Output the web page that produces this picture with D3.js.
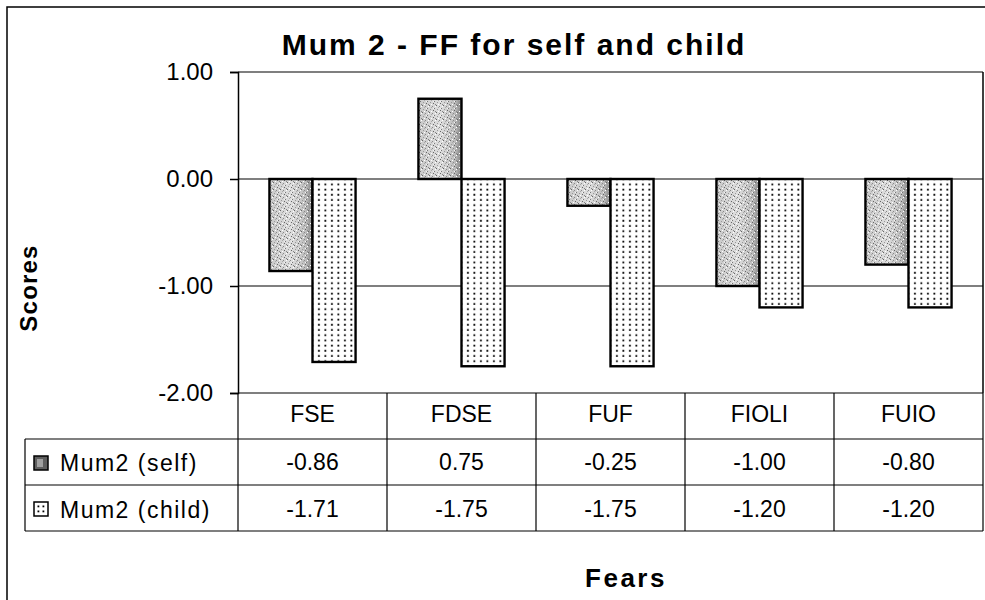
<!DOCTYPE html>
<html>
<head>
<meta charset="utf-8">
<script src="https://cdn.jsdelivr.net/npm/d3@7"></script>
<style>
body{margin:0;background:#fff;}
svg{font-family:"Liberation Sans",Arial,sans-serif;}
</style>
</head>
<body>
<script>
const categories=["FSE","FDSE","FUF","FIOLI","FUIO"];
const seriesNames=["Mum2 (self)","Mum2 (child)"];
const selfScores=[-0.86,0.75,-0.25,-1.00,-0.80];
const childScores=[-1.71,-1.75,-1.75,-1.20,-1.20];
const yTicks=[1,0,-1,-2];

const W=985,H=600,
plotLeft=238,plotRight=983,plotTop=72,plotBottom=393,
rowH=46,legendLeft=25,
fmt=d3.formatLocale({decimal:".",thousands:",",grouping:[3],currency:["",""],minus:"-"}).format(".2f");

const svg=d3.select("body").append("svg")
  .attr("width",W).attr("height",H);

const defs=svg.append("defs");

// grainy grey fill of the "self" bars
const grad=defs.append("linearGradient").attr("id","selfGrad");
grad.append("stop").attr("offset","0").attr("stop-color","#c8c8c8");
grad.append("stop").attr("offset","0.5").attr("stop-color","#dedede");
grad.append("stop").attr("offset","0.85").attr("stop-color","#bcbcbc");
grad.append("stop").attr("offset","1").attr("stop-color","#808080");

const speck=defs.append("pattern").attr("id","speck")
  .attr("patternUnits","userSpaceOnUse").attr("width",7).attr("height",7);
[[0,0,"#666"],[3,1,"#888"],[5,3,"#777"],[1,4,"#999"],[4,5,"#666"],[6,6,"#888"],[2,2,"#aaa"],[6,1,"#fff"],[2,6,"#fff"],[4,3,"#f4f4f4"]]
  .forEach(p=>speck.append("rect").attr("x",p[0]).attr("y",p[1]).attr("width",1).attr("height",1).attr("fill",p[2]));

// dotted fill of the "child" bars
const dots=defs.append("pattern").attr("id","dots")
  .attr("patternUnits","userSpaceOnUse").attr("width",6.5).attr("height",5.2);
dots.append("rect").attr("width",6.5).attr("height",5.2).attr("fill","#fff");
dots.append("rect").attr("x",2).attr("y",1.5).attr("width",1.8).attr("height",1.8).attr("fill","#000");

// outer chart border
svg.append("rect").attr("x",7).attr("y",7).attr("width",W+10).attr("height",H+10)
  .attr("fill","none").attr("stroke","#000").attr("stroke-width",1.5);

const x0=d3.scaleBand().domain(categories).range([plotLeft,plotRight]);
const x1=d3.scaleBand().domain(seriesNames).range([0,x0.bandwidth()]).paddingOuter(0.73);
const y=d3.scaleLinear().domain([-2,1]).range([plotBottom,plotTop]);

// gridlines
svg.append("g").selectAll("line").data(yTicks).enter().append("line")
  .attr("x1",plotLeft).attr("x2",plotRight)
  .attr("y1",d=>y(d)).attr("y2",d=>y(d))
  .attr("stroke","#000").attr("stroke-width",1.2);

// y axis
const yAxis=d3.axisLeft(y).tickValues(yTicks).tickFormat(fmt).tickSize(8).tickPadding(17);
svg.append("g").attr("transform",`translate(${plotLeft},0)`).call(yAxis)
  .call(g=>g.selectAll("text").attr("font-size",24).attr("fill","#000").attr("font-family","Liberation Sans, Arial"))
  .call(g=>g.selectAll("line,path").attr("stroke","#000").attr("stroke-width",1.5));

svg.append("line").attr("x1",plotRight).attr("x2",plotRight)
  .attr("y1",plotTop).attr("y2",plotBottom).attr("stroke","#000").attr("stroke-width",1.5);

// bars
const data=categories.map((c,i)=>({cat:c,vals:[selfScores[i],childScores[i]]}));
const groups=svg.append("g").selectAll("g").data(data).enter().append("g")
  .attr("transform",d=>`translate(${x0(d.cat)},0)`);

groups.each(function(d){
  const g=d3.select(this);
  d.vals.forEach((v,j)=>{
    const bx=x1(seriesNames[j]),bw=x1.bandwidth(),
      by=Math.min(y(v),y(0)),bh=Math.abs(y(v)-y(0));
    if(j===0){
      g.append("rect").attr("x",bx).attr("y",by).attr("width",bw).attr("height",bh).attr("fill","url(#selfGrad)");
      g.append("rect").attr("x",bx).attr("y",by).attr("width",bw).attr("height",bh).attr("fill","url(#speck)");
    }else{
      g.append("rect").attr("x",bx).attr("y",by).attr("width",bw).attr("height",bh).attr("fill","url(#dots)");
    }
    g.append("rect").attr("x",bx).attr("y",by).attr("width",bw).attr("height",bh)
      .attr("fill","none").attr("stroke","#000").attr("stroke-width",2.4);
  });
});

// data table
const rowY=[plotBottom,plotBottom+rowH,plotBottom+2*rowH,plotBottom+3*rowH];
const table=svg.append("g").attr("stroke","#000").attr("stroke-width",1.2);
[rowY[1],rowY[2],rowY[3]].forEach(yy=>table.append("line")
  .attr("x1",legendLeft).attr("x2",plotRight).attr("y1",yy).attr("y2",yy));
table.append("line").attr("x1",legendLeft).attr("x2",legendLeft).attr("y1",rowY[1]).attr("y2",rowY[3]);
categories.concat(["end"]).forEach((c,i)=>{
  const xx=i<categories.length?x0(c):plotRight;
  table.append("line").attr("x1",xx).attr("x2",xx).attr("y1",rowY[0]).attr("y2",rowY[3]);
});

const cellText=(g,xx,yy,t)=>g.append("text").attr("x",xx).attr("y",yy)
  .attr("text-anchor","middle").attr("font-size",23).attr("fill","#000").text(t);

const tt=svg.append("g");
categories.forEach((c,i)=>{
  const cx=x0(c)+x0.bandwidth()/2;
  cellText(tt,cx,rowY[0]+29,c);
  cellText(tt,cx,rowY[1]+31,fmt(selfScores[i]));
  cellText(tt,cx,rowY[2]+32,fmt(childScores[i]));
});

// legend keys in the table
seriesNames.forEach((s,j)=>{
  const ky=rowY[j+1]+17;
  if(j===0){
    svg.append("rect").attr("x",34).attr("y",ky).attr("width",14).attr("height",14)
      .attr("fill","#5e5e5e").attr("stroke","#000").attr("stroke-width",1.5);
    svg.append("rect").attr("x",37).attr("y",ky+3).attr("width",6).attr("height",8).attr("fill","#a0a0a0");
  }else{
    svg.append("rect").attr("x",34).attr("y",ky).attr("width",14).attr("height",14)
      .attr("fill","#fff").attr("stroke","#000").attr("stroke-width",1.5);
    [[38,ky+4],[43,ky+4],[38,ky+9],[43,ky+9]].forEach(p=>svg.append("rect")
      .attr("x",p[0]-0.5).attr("y",p[1]-0.5).attr("width",1.8).attr("height",1.8).attr("fill","#000"));
  }
  svg.append("text").attr("x",60).attr("y",rowY[j+1]+32+j)
    .attr("font-size",23).attr("letter-spacing",1.5).attr("fill","#000").text(s);
});

// titles
svg.append("text").attr("x",514).attr("y",55).attr("text-anchor","middle")
  .attr("font-size",30).attr("font-weight","bold").attr("letter-spacing",2).text("Mum 2 - FF for self and child");

svg.append("text").attr("transform","translate(37,288) rotate(-90)")
  .attr("text-anchor","middle").attr("font-size",24).attr("font-weight","bold")
  .attr("letter-spacing",1.2).text("Scores");

svg.append("text").attr("x",626).attr("y",587).attr("text-anchor","middle")
  .attr("font-size",26).attr("font-weight","bold").attr("letter-spacing",2.5).text("Fears");
</script>
</body>
</html>
